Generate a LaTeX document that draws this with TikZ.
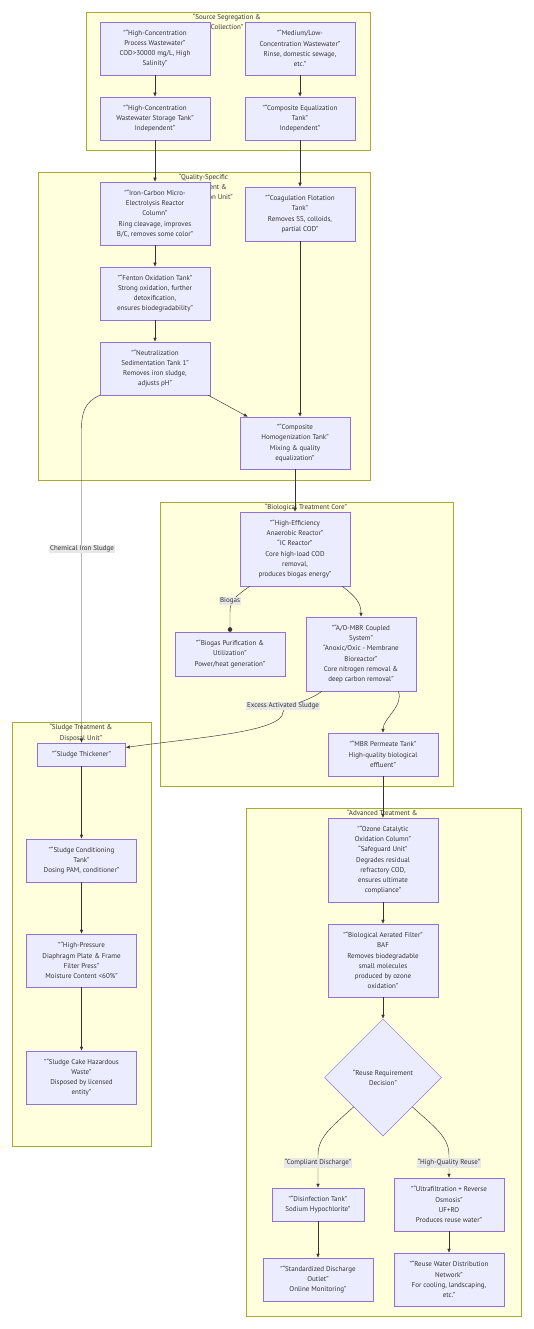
\documentclass[tikz,border=0pt]{standalone}
\usepackage{fontspec}
\setmainfont{PT Sans}
\usepackage{tikz}
\usepackage{xcolor}
\usetikzlibrary{arrows.meta,shapes.geometric}

\definecolor{nodefill}{HTML}{ECECFF}
\definecolor{nodeline}{HTML}{9370DB}
\definecolor{zonefill}{HTML}{FFFFDE}
\definecolor{zoneline}{HTML}{AAAA33}
\definecolor{flowline}{HTML}{333333}
\definecolor{labelfill}{HTML}{E8E8E8}
\definecolor{txt}{HTML}{333333}

\begin{document}
\begin{tikzpicture}[x=1pt, y=-1pt,
    procbox/.style={draw=nodeline, fill=nodefill, line width=0.5pt, align=center,
        minimum width=110pt, inner sep=1pt, text=txt, font=\fontsize{7}{10.3}\selectfont},
    zone/.style={draw=zoneline, fill=zonefill, line width=0.5pt},
    zonetitle/.style={anchor=north, align=center, inner sep=0pt, text=txt,
        font=\fontsize{7}{10.3}\selectfont},
    flow/.style={draw=flowline, line width=0.45pt, -{Latex[length=4pt,width=3.5pt]}},
    flowlabel/.style={fill=labelfill, inner sep=1.2pt, text=txt, font=\fontsize{7}{8}\selectfont}]
    \useasboundingbox (0,0) rectangle (533,1329);

    % zones
    \draw[zone] (86,12) rectangle (370,150);
    \node[zonetitle] (tsource) at (227,13.7) {“Source Segregation \&\\Collection"};
    \draw[zone] (38,172) rectangle (370,480);
    \node[zonetitle] (tquality) at (203.5,173.7) {“Quality-Specific\\Pretreatment \&\\Detoxification Unit"};
    \draw[zone] (160,502) rectangle (453,786);
    \node[zonetitle] (tbio) at (306,503.7) {“Biological Treatment Core"};
    \draw[zone] (12,722) rectangle (151,1146);
    \node[zonetitle] (tsludge) at (81,724.3) {“Sludge Treatment \&\\Disposal Unit"};
    \draw[zone] (246,808) rectangle (521,1316);
    \node[zonetitle] (tadvanced) at (382.5,810.3) {“Advanced Treatment \&\\Reuse Unit"};

    % source segregation
    \node[procbox, minimum height=53pt] (highconc) at (155,48.5) {"“High-Concentration\\Process Wastewater"\\COD>30000 mg/L, High\\Salinity"};
    \node[procbox, minimum height=53pt] (lowconc) at (300,48.5) {"“Medium/Low-\\Concentration Wastewater"\\Rinse, domestic sewage,\\etc."};
    \node[procbox, minimum height=43pt] (storage) at (155,118.5) {"“High-Concentration\\Wastewater Storage Tank"\\Independent"};
    \node[procbox, minimum height=43pt] (equal) at (300,118.5) {"“Composite Equalization\\Tank"\\Independent"};

    % pretreatment
    \node[procbox, minimum height=63pt] (ironcarbon) at (155,213.5) {"“Iron-Carbon Micro-\\Electrolysis Reactor\\Column"\\Ring cleavage, improves\\B/C, removes some color"};
    \node[procbox, minimum height=54pt] (coag) at (300,214) {"“Coagulation Flotation\\Tank"\\Removes SS, colloids,\\partial COD"};
    \node[procbox, minimum height=53pt] (fenton) at (155,293.5) {"“Fenton Oxidation Tank"\\Strong oxidation, further\\detoxification,\\ensures biodegradability"};
    \node[procbox, minimum height=53pt] (neutral) at (155,368.5) {"“Neutralization\\Sedimentation Tank 1"\\Removes iron sludge,\\adjusts pH"};
    \node[procbox, minimum height=52pt] (homog) at (295,443) {"“Composite\\Homogenization Tank"\\Mixing \& quality\\equalization"};

    % biological core
    \node[procbox, minimum height=74pt] (anaerobic) at (295,549) {"“High-Efficiency\\Anaerobic Reactor"\\“IC Reactor"\\Core high-load COD\\removal,\\produces biogas energy"};
    \node[procbox, minimum height=44pt] (biogas) at (230,654) {"“Biogas Purification \&\\Utilization"\\Power/heat generation"};
    \node[procbox, minimum height=74pt] (aombr) at (361,654) {"“A/O-MBR Coupled\\System"\\“Anoxic/Oxic - Membrane\\Bioreactor"\\Core nitrogen removal \&\\deep carbon removal"};
    \node[procbox, minimum height=43pt] (permeate) at (383,754.5) {"“MBR Permeate Tank"\\High-quality biological\\effluent"};

    % sludge line
    \node[procbox, minimum width=88pt, minimum height=23pt] (thickener) at (81.5,754.5) {"“Sludge Thickener"};
    \node[procbox, minimum height=43pt] (conditioning) at (81.5,860.5) {"“Sludge Conditioning\\Tank"\\Dosing PAM, conditioner"};
    \node[procbox, minimum height=53pt] (filterpress) at (81.5,960.5) {"“High-Pressure\\Diaphragm Plate \& Frame\\Filter Press"\\Moisture Content <60\%"};
    \node[procbox, minimum height=53pt] (cake) at (81.5,1077.5) {"“Sludge Cake Hazardous\\Waste"\\Disposed by licensed\\entity"};

    % advanced treatment
    \node[procbox, minimum height=84pt] (ozone) at (383,860) {"“Ozone Catalytic\\Oxidation Column"\\“Safeguard Unit"\\Degrades residual\\refractory COD,\\ensures ultimate\\compliance"};
    \node[procbox, minimum height=73pt] (baf) at (383,960.5) {"“Biological Aerated Filter"\\BAF\\Removes biodegradable\\small molecules\\produced by ozone\\oxidation"};
    \node[procbox, diamond, aspect=1, minimum width=117pt, minimum height=117pt, inner sep=0pt] (decision) at (383,1077.5) {“Reuse Requirement\\Decision"};
    \node[procbox, minimum width=92pt, minimum height=33pt] (disinfect) at (318,1204.5) {"“Disinfection Tank"\\Sodium Hypochlorite"};
    \node[procbox, minimum height=53pt] (ufro) at (449,1204.5) {"“Ultrafiltration + Reverse\\Osmosis"\\UF+RO\\Produces reuse water"};
    \node[procbox, minimum height=43pt] (outlet) at (318,1279.5) {"“Standardized Discharge\\Outlet"\\Online Monitoring"};
    \node[procbox, minimum height=53pt] (reusenet) at (449,1279.5) {"“Reuse Water Distribution\\Network"\\For cooling, landscaping,\\etc."};

    % flows
    \draw[flow] (highconc) -- (storage);
    \draw[flow] (lowconc) -- (equal);
    \draw[flow] (storage) -- (ironcarbon);
    \draw[flow] (equal) -- (coag);
    \draw[flow] (ironcarbon) -- (fenton);
    \draw[flow] (fenton) -- (neutral);
    \draw[flow] (coag.south) -- (coag.south |- homog.north);
    \draw[flow] ([xshift=-2pt]neutral.south east) -- ([xshift=8pt]homog.north west);
    \draw[flow] (neutral.south west) .. controls +(-15,7) and +(0,-18) .. (81.5,430) -- (thickener.north);
    \draw[flow] (homog) -- (anaerobic);
    \draw[draw=flowline, line width=0.45pt, -{Circle[length=4.5pt]}] ([xshift=10pt]anaerobic.south west) .. controls +(-14,10) and +(0,-12) .. (230,612) -- (biogas.north);
    \draw[flow] ([xshift=-8pt]anaerobic.south east) .. controls +(13,10) and +(0,-14) .. (aombr.north);
    \draw[flow] ([xshift=16pt]aombr.south west) .. controls +(-12,10) and +(0,-6) .. (283,712) .. controls +(0,20) and +(70,-10) .. ([yshift=7pt]thickener.east);
    \draw[flow] ([xshift=-18pt]aombr.south east) .. controls +(6,14) and +(0,-14) .. (permeate.north);
    \draw[flow] (permeate) -- (ozone);
    \draw[flow] (thickener) -- (conditioning);
    \draw[flow] (conditioning) -- (filterpress);
    \draw[flow] (filterpress) -- (cake);
    \draw[flow] (ozone) -- (baf);
    \draw[flow] (baf) -- (decision);
    \draw[flow] (decision.south west) .. controls +(-22,20) and +(0,-18) .. (318,1155) -- (disinfect.north);
    \draw[flow] (decision.south east) .. controls +(22,20) and +(0,-18) .. (449,1155) -- (ufro.north);
    \draw[flow] (disinfect) -- (outlet);
    \draw[flow] (ufro) -- (reusenet);

    % flow labels
    \node[flowlabel] (lbliron) at (82,549) {Chemical Iron Sludge};
    \node[flowlabel] (lblgas) at (230,601) {Biogas};
    \node[flowlabel] (lblexcess) at (283,706) {Excess Activated Sludge};
    \node[flowlabel] (lbldischarge) at (318,1163) {“Compliant Discharge"};
    \node[flowlabel] (lblreuse) at (449,1163) {“High-Quality Reuse"};
\end{tikzpicture}
\end{document}
